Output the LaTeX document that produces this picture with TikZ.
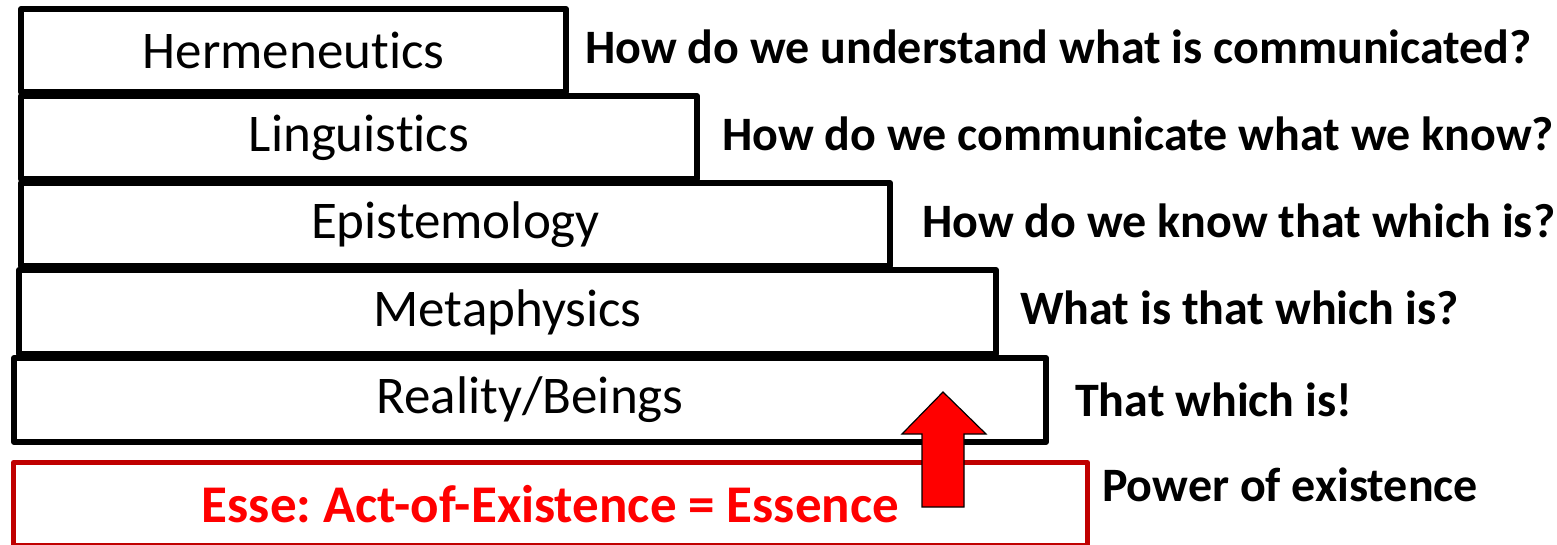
\documentclass[tikz,border=0pt]{standalone}
\usepackage{fontspec}
\setmainfont[Ligatures=NoCommon]{Carlito}
\usetikzlibrary{positioning, calc}
\definecolor{darkred}{RGB}{192,0,0}
\frenchspacing

\begin{document}
\begin{tikzpicture}[
  x=1pt, y=-1pt,
  layer/.style={draw, line width=6pt, line join=round, anchor=north west,
    inner sep=0pt, font=\fontsize{53}{60}\selectfont},
  question/.style={anchor=west, inner sep=0pt, yshift=4pt,
    font=\fontsize{48}{54}\selectfont\bfseries}
]
  \useasboundingbox (0,0) rectangle (1557,545);
  % Schichten
  \node[layer, minimum width=545pt, minimum height=83pt] (herm) at (18,6) {Hermeneutics};
  \node[layer, minimum width=676pt, minimum height=83pt] (ling) at (18,93) {Linguistics};
  \node[layer, minimum width=869pt, minimum height=83pt] (epis) at (18,180) {Epistemology};
  \node[layer, minimum width=977pt, minimum height=84pt] (meta) at (16,267) {Metaphysics};
  \node[layer, minimum width=1032pt, minimum height=84pt] (real) at (11,355) {Reality/Beings};
  % Esse
  \node[layer, draw=darkred, line width=5pt, minimum width=1074pt, minimum height=83pt,
        text=red, font=\fontsize{53}{60}\selectfont\bfseries] (esse) at (11,460)
        {Esse: Act-of-Existence = Essence};
  % Fragen
  \node[question, right=16pt of herm] (qherm) {How do we understand what is communicated?};
  \node[question, right=22pt of ling] (qling) {How do we communicate what we know?};
  \node[question, right=29pt of epis] (qepis) {How do we know that which is?};
  \node[question, right=21pt of meta] (qmeta) {What is that which is?};
  \node[question, right=26pt of real, yshift=-4pt] (qreal) {That which is!};
  \node[question, right=12pt of esse, yshift=15pt] (qesse) {Power of existence};
  % Pfeil
  \draw[fill=red, line width=1.2pt]
    (922,507) -- (922,434) -- (902,434) -- (943,392) -- (986,434)
    -- (964,434) -- (964,507) -- cycle;
\end{tikzpicture}
\end{document}
